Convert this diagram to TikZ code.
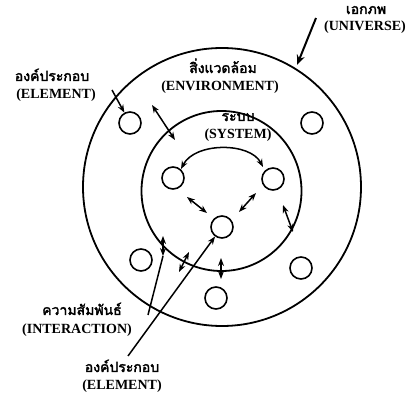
\documentclass[tikz,border=0pt]{standalone}
\usepackage{fontspec}
\setmainfont{Liberation Serif}
\newfontfamily\thaifont[Script=Thai,FakeBold=2.5]{Loma}
\usetikzlibrary{arrows.meta}
\begin{document}
\begin{tikzpicture}[x=1pt,y=-1pt,
  elem/.style={circle,draw,line width=1.6pt,minimum size=22pt,inner sep=0pt},
  ring/.style={circle,draw,line width=1.8pt,inner sep=0pt},
  conn/.style={line width=1.5pt},
  dbl/.style={conn,{Stealth[length=8pt,width=6pt]}-{Stealth[length=8pt,width=6pt]}},
  one/.style={conn,-{Stealth[length=8pt,width=6pt]}},
  th/.style={font=\thaifont\fontsize{14}{15}\selectfont,inner sep=0pt,text height=7pt,text depth=1pt},
  en/.style={font=\bfseries\fontsize{14}{15}\selectfont,inner sep=0pt,text height=7pt,text depth=1pt}]
\useasboundingbox (0,0) rectangle (408,396);
% rings
\node[ring,minimum size=278pt] (outer) at (222,187) {};
\node[ring,minimum size=160pt] (inner) at (221.5,191) {};
% elements
\node[elem] (e1) at (130,123) {};
\node[elem] (e2) at (312,123) {};
\node[elem] (e3) at (173,178) {};
\node[elem] (e4) at (273,179) {};
\node[elem] (e5) at (222,227) {};
\node[elem] (e6) at (141,260) {};
\node[elem] (e7) at (301,268) {};
\node[elem] (e8) at (216,298) {};
% labels
\node[th] (tU) at (366,11) {เอกภพ};
\node[en] (lU) at (365,28) {(UNIVERSE)};
\node[th] (tE1) at (52,78) {องค์ประกอบ};
\node[en] (lE1) at (56,96) {(ELEMENT)};
\node[th] (tEnv) at (223,70) {สิ่งแวดล้อม};
\node[en] (lEnv) at (220,88) {(ENVIRONMENT)};
\node[th] (tS) at (238,118) {ระบบ};
\node[en] (lS) at (238,136) {(SYSTEM)};
\node[th] (tI) at (82,312) {ความสัมพันธ์};
\node[en] (lI) at (77,331) {(INTERACTION)};
\node[th] (tE2) at (122,369) {องค์ประกอบ};
\node[en] (lE2) at (122,387) {(ELEMENT)};
% coordinates
\coordinate (u0) at (316,18);
\coordinate (u1) at (297,65);
\coordinate (p0) at (112,90);
\coordinate (d1a) at (152,105); \coordinate (d1b) at (175,140);
\coordinate (d2a) at (187,197); \coordinate (d2b) at (207,213);
\coordinate (d3a) at (256,193); \coordinate (d3b) at (239,212);
\coordinate (d4a) at (283,205); \coordinate (d4b) at (293,232);
\coordinate (d5a) at (163,236); \coordinate (d5b) at (163,256);
\coordinate (d6a) at (189,252); \coordinate (d6b) at (179,272);
\coordinate (d7a) at (221,258); \coordinate (d7b) at (221,279);
\coordinate (a1) at (181,169); \coordinate (a2) at (263,167);
\coordinate (i0) at (148,315);
\coordinate (b0) at (128,356);
% connectors
\draw[line width=2pt,-{Stealth[length=10pt,width=8pt]}] (u0) -- (u1);
\draw[one] (p0) -- (e1);
\draw[dbl] (d1a) -- (d1b);
\draw[dbl] (d2a) -- (d2b);
\draw[dbl] (d3a) -- (d3b);
\draw[dbl] (d4a) -- (d4b);
\draw[dbl] (d5a) -- (d5b);
\draw[dbl] (d6a) -- (d6b);
\draw[dbl] (d7a) -- (d7b);
\draw[dbl] (a1) .. controls (195,142) and (250,142) .. (a2);
\draw[conn] (i0) -- (d5b);
\draw[one] (b0) -- (e5);
\end{tikzpicture}
\end{document}
